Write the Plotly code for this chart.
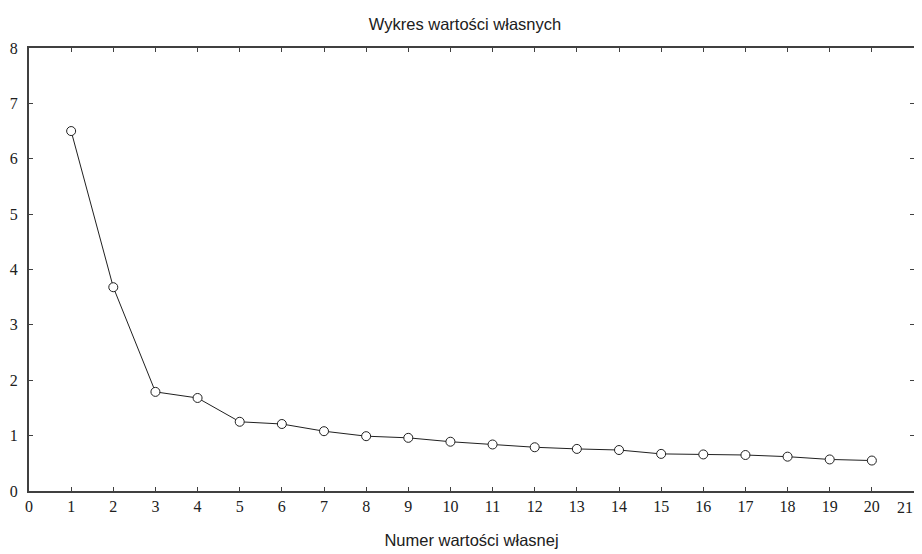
import plotly.graph_objects as go

numer = list(range(1, 21))
wartosci = [6.50, 3.68, 1.79, 1.68, 1.25, 1.21, 1.08, 0.99, 0.96, 0.89,
            0.84, 0.79, 0.76, 0.74, 0.67, 0.66, 0.65, 0.62, 0.57, 0.55]
x_ticks = list(range(0, 22))
y_ticks = list(range(0, 9))

tick_font = dict(family="Liberation Serif, DejaVu Serif", size=16, color="#202020")

fig = go.Figure()
fig.add_trace(go.Scatter(
    x=numer, y=wartosci, mode="lines+markers",
    line=dict(color="#202020", width=1),
    marker=dict(symbol="circle", size=9, color="white",
                line=dict(color="#202020", width=1)),
    showlegend=False,
    cliponaxis=False,
))

axis_common = dict(showgrid=False, zeroline=False, showline=True, linecolor="#404040",
                   linewidth=2, mirror="ticks", ticks="inside", ticklen=4,
                   tickcolor="#404040", tickwidth=1, automargin=False,
                   ticklabeloverflow="allow", tickfont=tick_font)

sans = "Liberation Sans Narrow, Liberation Sans, Arial"

# last x tick label drawn right-anchored so that it is not cut at the window edge
x_ticktext = [str(v) for v in x_ticks[:-1]] + [""]

fig.update_layout(
    width=922, height=554,
    margin=dict(l=21, r=16, t=40, b=71),
    paper_bgcolor="white", plot_bgcolor="white",
    title=dict(text="Wykres wartości własnych", x=0.4957, xanchor="center", y=0.9711, yanchor="middle",
               font=dict(family=sans, size=16.5, color="#202020")),
    xaxis=dict(range=[0, 21], tickvals=x_ticks, ticktext=x_ticktext,
               ticklabelstandoff=0,
               title=dict(text="Numer wartości własnej", standoff=20,
                          font=dict(family=sans, size=16.5, color="#202020")),
               **axis_common),
    yaxis=dict(range=[0, 8], tickvals=y_ticks, ticktext=[str(v) for v in y_ticks],
               ticklabelstandoff=6, **axis_common),
    annotations=[dict(text=str(x_ticks[-1]), x=x_ticks[-1], y=y_ticks[0], xref="x", yref="y",
                      xanchor="right", yanchor="top", showarrow=False, yshift=-6, xshift=1,
                      font=tick_font)],
)

fig.write_html("out.html")
